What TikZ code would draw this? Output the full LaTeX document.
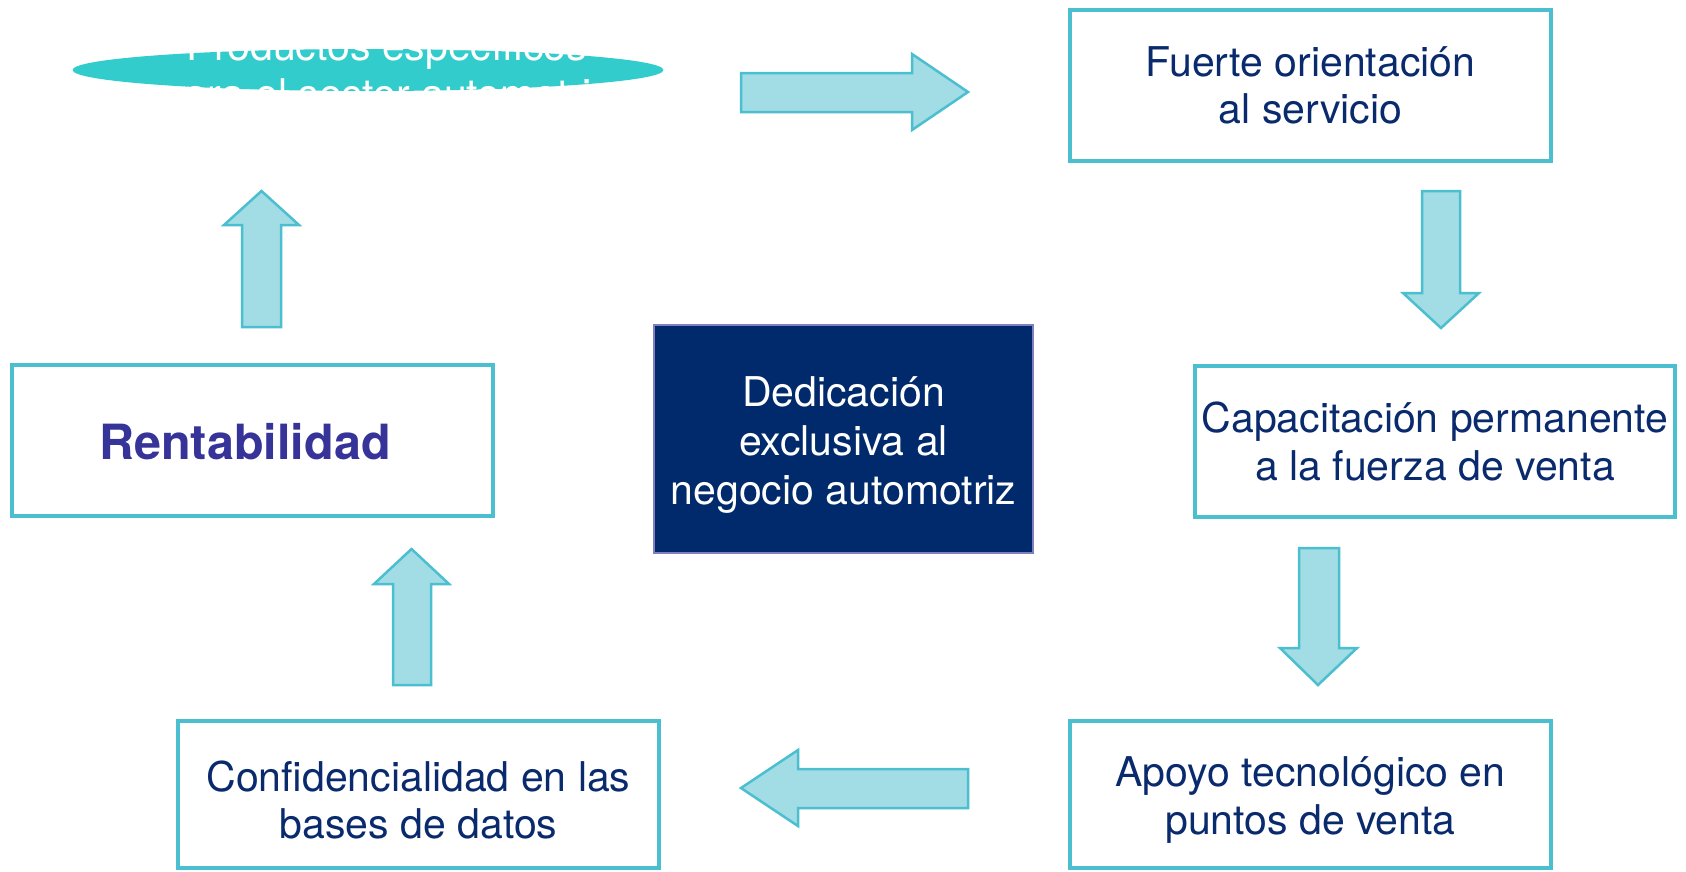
\documentclass[tikz,border=0pt]{standalone}
\usepackage{fontspec}
\setmainfont{TeX Gyre Heros}
\usetikzlibrary{shapes.geometric}

\definecolor{boxcyan}{HTML}{4BBFD0}
\definecolor{textnavy}{HTML}{0A2A6E}
\definecolor{rentcol}{HTML}{363399}
\definecolor{corefill}{HTML}{002A6C}
\definecolor{coreline}{HTML}{8080C0}
\definecolor{ovalfill}{HTML}{33CCCC}
\definecolor{arrowfill}{HTML}{A2DCE4}

\begin{document}
\begin{tikzpicture}[x=1pt,y=-1pt,
  box/.style={draw=boxcyan, line width=3.5pt, fill=white, text=textnavy, align=center,
    inner sep=0pt, font=\fontsize{41}{47.5}\selectfont},
  boxtext/.style={text=textnavy, align=center, inner sep=0pt, font=\fontsize{41}{47.5}\selectfont},
  bigarrow/.style={draw=boxcyan, line width=2.5pt, fill=arrowfill, line join=miter}]

\useasboundingbox (0,0) rectangle (1686,871);

% oval at the top
\node[ellipse, fill=ovalfill, inner sep=0pt, minimum width=591, minimum height=42] (prod) at (368,70) {};
\node[boxtext, text=white] (prodtxt) at (387,74) {Productos espec\'ificos\\para el sector automotriz};

\node[box, minimum width=481, minimum height=151] (fuerte) at (1310.5,85.5) {Fuerte orientaci\'on\\al servicio};
\node[box, minimum width=480, minimum height=151] (capac) at (1435,441.5) {Capacitaci\'on permanente\\a la fuerza de venta};

\node[box, minimum width=481, minimum height=147] (apoyo) at (1310.5,794.5) {};
\node[boxtext] (apoyotxt) at (1310.5,800) {Apoyo tecnol\'ogico en\\puntos de venta};
\node[box, minimum width=481, minimum height=147] (confid) at (418.5,794.5) {};
\node[boxtext] (confidtxt) at (418.5,800) {Confidencialidad en las\\bases de datos};

\node[box, minimum width=481, minimum height=151] (rent) at (252.5,440.5) {};
\node[boxtext, text=rentcol, font=\fontsize{48.5}{52}\selectfont\bfseries] (renttxt) at (245,442) {Rentabilidad};

% centre
\node[draw=coreline, line width=1.5pt, fill=corefill, minimum width=379, minimum height=228] (core) at (843.5,439) {};
\node[boxtext, text=white, font=\fontsize{41}{49}\selectfont] (coretxt) at (843.5,445) {Dedicaci\'on\\exclusiva al\\negocio automotriz};

% arrows
\draw[bigarrow] (741,73) -- (912,73) -- (912,54) -- (968,92) -- (912,130) -- (912,112) -- (741,112) -- cycle;
\draw[bigarrow] (1422,191) -- (1460,191) -- (1460,293) -- (1479,293) -- (1441,328) -- (1403,293) -- (1422,293) -- cycle;
\draw[bigarrow] (1299,548) -- (1339,548) -- (1339,648) -- (1357,648) -- (1318,685) -- (1280,648) -- (1299,648) -- cycle;
\draw[bigarrow] (968,769) -- (798,769) -- (798,750) -- (741,788) -- (798,826) -- (798,808) -- (968,808) -- cycle;
\draw[bigarrow] (393,685) -- (431,685) -- (431,584) -- (449,584) -- (411.5,549) -- (374,584) -- (393,584) -- cycle;
\draw[bigarrow] (242,327) -- (281,327) -- (281,225) -- (299,225) -- (261.5,191) -- (224,225) -- (242,225) -- cycle;

\end{tikzpicture}
\end{document}
